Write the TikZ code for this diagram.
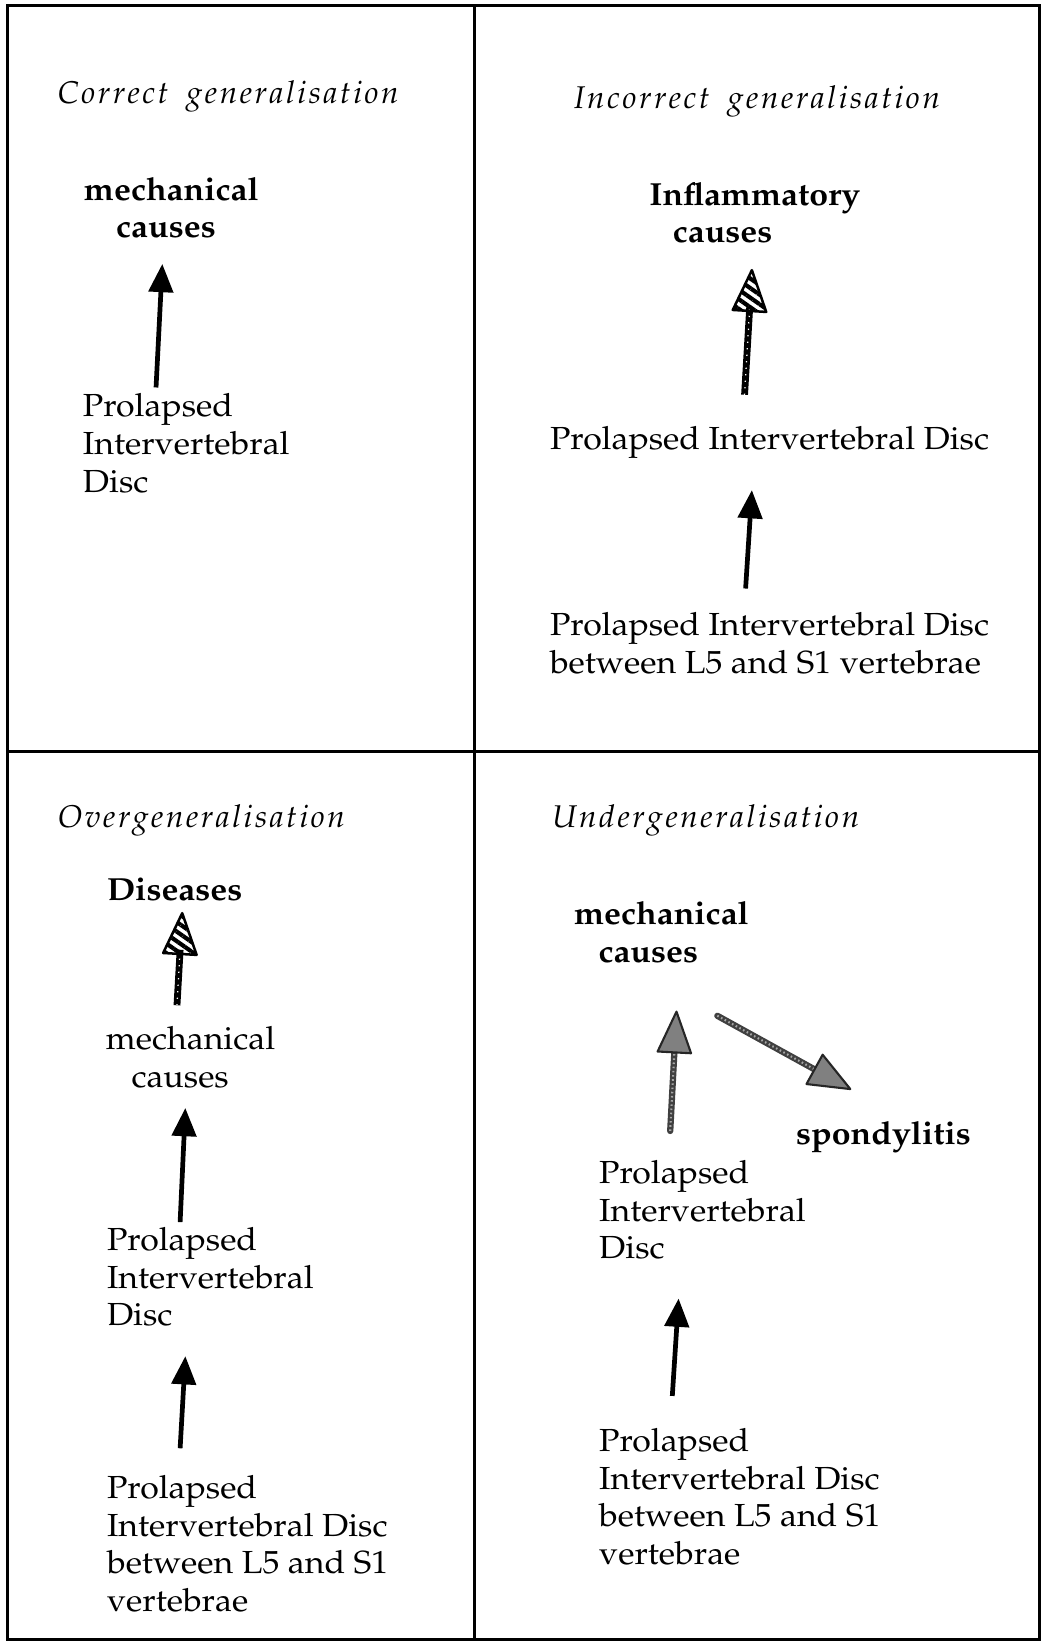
\documentclass[tikz,border=0pt]{standalone}
\usepackage[T1]{fontenc}
\usepackage{mathpazo}
\usetikzlibrary{arrows.meta,calc,patterns.meta}

% triangular arrow head at #2, pointing away from #1
\newcommand\headtri[3]{%
  \filldraw[#3] (#2) -- ($(#2)!39pt!(#1)!16pt!90:(#2)$)
     -- ($(#2)!39pt!(#1)!16pt!-90:(#2)$) -- cycle;}

% letter-spaced word
\def\lspword#1{\lspstep#1\relax}
\def\lspstep#1{\ifx#1\relax\else#1\kern2.5pt\expandafter\lspstep\fi}

\begin{document}
\begin{tikzpicture}[x=1pt,y=-1pt,
  % multi-line labels are placed by the baseline of their last line
  txt/.style={inner sep=0pt,anchor=base west,align=left,xscale=1.06,transform shape,
    font=\fontsize{30.5}{36}\selectfont},
  txtb/.style={txt,font=\fontsize{30.5}{36}\selectfont\bfseries},
  ttl/.style={inner sep=0pt,anchor=base west,font=\fontsize{30}{34}\selectfont\itshape},
  frame/.style={line width=3pt},
  solidarr/.style={line width=4.5pt,
    -{Triangle[length=27pt,width=23pt]}},
  hatchshaft/.style={line width=6.5pt,shorten >=35pt},
  hatchdots/.style={draw=white,line width=1.2pt,dash pattern=on 1.2pt off 5pt,shorten >=37pt},
  hatchhead/.style={pattern={Lines[angle=-35,distance=7.5pt,line width=4pt]},
    draw=black,line width=2.4pt,line join=round},
  grayshaft/.style={line width=6pt,draw=black!75,shorten >=35pt,line cap=round},
  graydots/.style={draw=black!35,line width=2pt,dash pattern=on 1.5pt off 2.5pt,shorten >=37pt},
  grayhead/.style={fill=black!50,draw=black!85,line width=2pt,line join=round}]

\useasboundingbox (0,0) rectangle (994,1568);
\fill[white] (0,0) rectangle (994,1568);

% outer frame and quadrant dividers
\draw[frame] (7,5) rectangle (993,1566);
\draw[frame] (453,5) -- (453,1566);
\draw[frame] (7,718) -- (993,718);

% ---- correct generalisation
\node[ttl] (t1) at (55,99) {\lspword{Correct}\hspace{15pt}\lspword{generalisation}};
\node[txtb] (q1m) at (80,227) {mechanical\\\hspace*{29pt}causes};
\node[txt] (q1p) at (79,470) {Prolapsed\\Intervertebral\\Disc};
\coordinate (a1s) at (149,370);
\coordinate (a1e) at (155,252);
\draw[solidarr] (a1s) -- (a1e);

% ---- incorrect generalisation
\node[ttl] (t2) at (548,104) {\lspword{Incorrect}\hspace{15pt}\lspword{generalisation}};
\node[txtb] (q2i) at (620,232) {Inflammatory\\\hspace*{21pt}causes};
\node[txt] (q2p) at (525,429) {Prolapsed Intervertebral Disc};
\node[txt] (q2l) at (525,643) {Prolapsed Intervertebral Disc\\between L5 and S1 vertebrae};
\coordinate (b1s) at (711,377);
\coordinate (b1e) at (718,258);
\draw[hatchshaft] (b1s) -- (b1e);
\draw[hatchdots] (b1s) -- (b1e);
\headtri{b1s}{b1e}{hatchhead}
\coordinate (b2s) at (712,562);
\coordinate (b2e) at (718,468);
\draw[solidarr] (b2s) -- (b2e);

% ---- overgeneralisation
\node[ttl] (t3) at (55,790) {\lspword{Overgeneralisation}};
\node[txtb] (q3d) at (102,860) {Diseases};
\node[txt] (q3m) at (101,1038) {mechanical\\\hspace*{23pt}causes};
\node[txt] (q3p) at (102,1266) {Prolapsed\\Intervertebral\\Disc};
\node[txt] (q3l) at (102,1539) {Prolapsed\\Intervertebral Disc\\between L5 and S1\\vertebrae};
\coordinate (c1s) at (169,960);
\coordinate (c1e) at (174,872);
\draw[hatchshaft] (c1s) -- (c1e);
\draw[hatchdots] (c1s) -- (c1e);
\headtri{c1s}{c1e}{hatchhead}
\coordinate (c2s) at (172,1167);
\coordinate (c2e) at (177,1058);
\draw[solidarr] (c2s) -- (c2e);
\coordinate (c3s) at (172,1383);
\coordinate (c3e) at (177,1295);
\draw[solidarr] (c3s) -- (c3e);

% ---- undergeneralisation
\node[ttl] (t4) at (527,790) {\lspword{Undergeneralisation}};
\node[txtb] (q4m) at (548,919) {mechanical\\\hspace*{22pt}causes};
\node[txtb] (q4s) at (760,1093) {spondylitis};
\node[txt] (q4p) at (572,1202) {Prolapsed\\Intervertebral\\Disc};
\node[txt] (q4l) at (572,1494) {Prolapsed\\Intervertebral Disc\\between L5 and S1\\vertebrae};
\coordinate (d1s) at (640,1080);
\coordinate (d1e) at (646,966);
\draw[grayshaft] (d1s) -- (d1e);
\draw[graydots] (d1s) -- (d1e);
\headtri{d1s}{d1e}{grayhead}
\coordinate (d2s) at (685,970);
\coordinate (d2e) at (812,1040);
\draw[grayshaft] (d2s) -- (d2e);
\draw[graydots] (d2s) -- (d2e);
\headtri{d2s}{d2e}{grayhead}
\coordinate (d3s) at (642,1333);
\coordinate (d3e) at (648,1240);
\draw[solidarr] (d3s) -- (d3e);
\end{tikzpicture}
\end{document}
